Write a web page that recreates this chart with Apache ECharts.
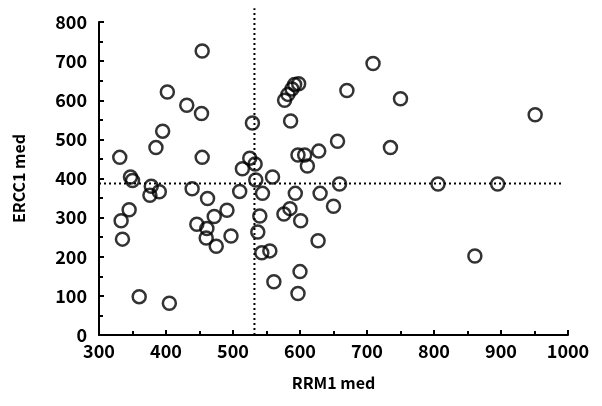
<!DOCTYPE html>
<html>
<head>
<meta charset="utf-8">
<script src="https://cdn.jsdelivr.net/npm/echarts@6/dist/echarts.min.js"></script>
<style>
  html, body { margin: 0; padding: 0; background: #fff; }
  #main { width: 602px; height: 406px; }
</style>
</head>
<body>
<div id="main"></div>
<script>
// RRM1 med (x) vs ERCC1 med (y), one circle per sample
var rrm1 = [331, 347, 350, 385, 395, 402, 431, 453, 454, 454,
            378, 376, 390, 439, 462, 510, 529, 525, 514, 533,
            534, 559, 544, 577, 582, 588, 592, 598, 586, 597,
            607, 611, 628, 656, 659, 709, 670, 750, 735, 951,
            806, 895, 650, 861, 593, 630, 585, 576, 601, 540,
            537, 543, 555, 627, 600, 597, 561, 345, 333, 335,
            360, 405, 446, 461, 472, 491, 460, 475, 497];
var ercc1 = [454, 404, 395, 479, 521, 621, 587, 566, 726, 454,
             380, 357, 366, 374, 349, 367, 542, 452, 425, 437,
             396, 404, 362, 600, 615, 629, 640, 642, 547, 460,
             460, 432, 470, 495, 386, 694, 625, 604, 479, 563,
             386, 386, 329, 202, 362, 362, 323, 309, 292, 304,
             263, 210, 215, 241, 162, 106, 136, 320, 292, 245,
             98, 81, 283, 272, 303, 319, 248, 227, 253];

// median cut-offs drawn as dotted lines
var rrm1Median = 532;
var ercc1Median = 387;

var points = [];
for (var i = 0; i < rrm1.length; i++) {
    points.push([rrm1[i], ercc1[i]]);
}

var font = "'Noto Sans CJK JP', sans-serif";
var black = '#000';
var dotted = { color: black, width: 2, type: [2, 3] };
var plain = function (v) { return String(v); };

var option = {
    animation: false,
    backgroundColor: '#fff',
    grid: { left: 99, top: 22, right: 34, bottom: 71 },
    xAxis: {
        type: 'value',
        min: 300, max: 1000, interval: 100,
        name: 'RRM1 med',
        nameLocation: 'middle',
        nameGap: 40,
        nameTextStyle: { color: black, fontSize: 16, fontWeight: 'bold', fontFamily: font },
        axisLine: { lineStyle: { color: black, width: 2 } },
        axisTick: { inside: true, length: 5, lineStyle: { color: black, width: 2 } },
        minorTick: { show: true, splitNumber: 2, length: 4, lineStyle: { color: black, width: 2 } },
        axisLabel: { color: black, fontSize: 18, fontWeight: 'bold', fontFamily: font, margin: 7, formatter: plain },
        splitLine: { show: false }
    },
    yAxis: {
        type: 'value',
        min: 0, max: 800, interval: 100,
        name: 'ERCC1 med',
        nameLocation: 'middle',
        nameGap: 72,
        nameTextStyle: { color: black, fontSize: 16, fontWeight: 'bold', fontFamily: font },
        axisLine: { lineStyle: { color: black, width: 2 } },
        axisTick: { inside: true, length: 5, lineStyle: { color: black, width: 2 } },
        minorTick: { show: true, splitNumber: 2, length: 4, lineStyle: { color: black, width: 2 } },
        axisLabel: { color: black, fontSize: 18, fontWeight: 'bold', fontFamily: font, margin: 12, formatter: plain },
        splitLine: { show: false }
    },
    series: [{
        type: 'line',
        data: [[rrm1Median, 0], [rrm1Median, 835]],
        symbol: 'none',
        clip: false,
        silent: true,
        lineStyle: dotted
    }, {
        type: 'line',
        data: [[300, ercc1Median], [990, ercc1Median]],
        symbol: 'none',
        clip: false,
        silent: true,
        lineStyle: dotted
    }, {
        type: 'scatter',
        data: points,
        symbol: 'circle',
        symbolSize: 13,
        clip: false,
        itemStyle: { color: 'rgba(255,255,255,0)', borderColor: black, borderWidth: 2.5 }
    }]
};

var myChart = echarts.init(document.getElementById('main'));
myChart.setOption(option);
</script>
</body>
</html>
